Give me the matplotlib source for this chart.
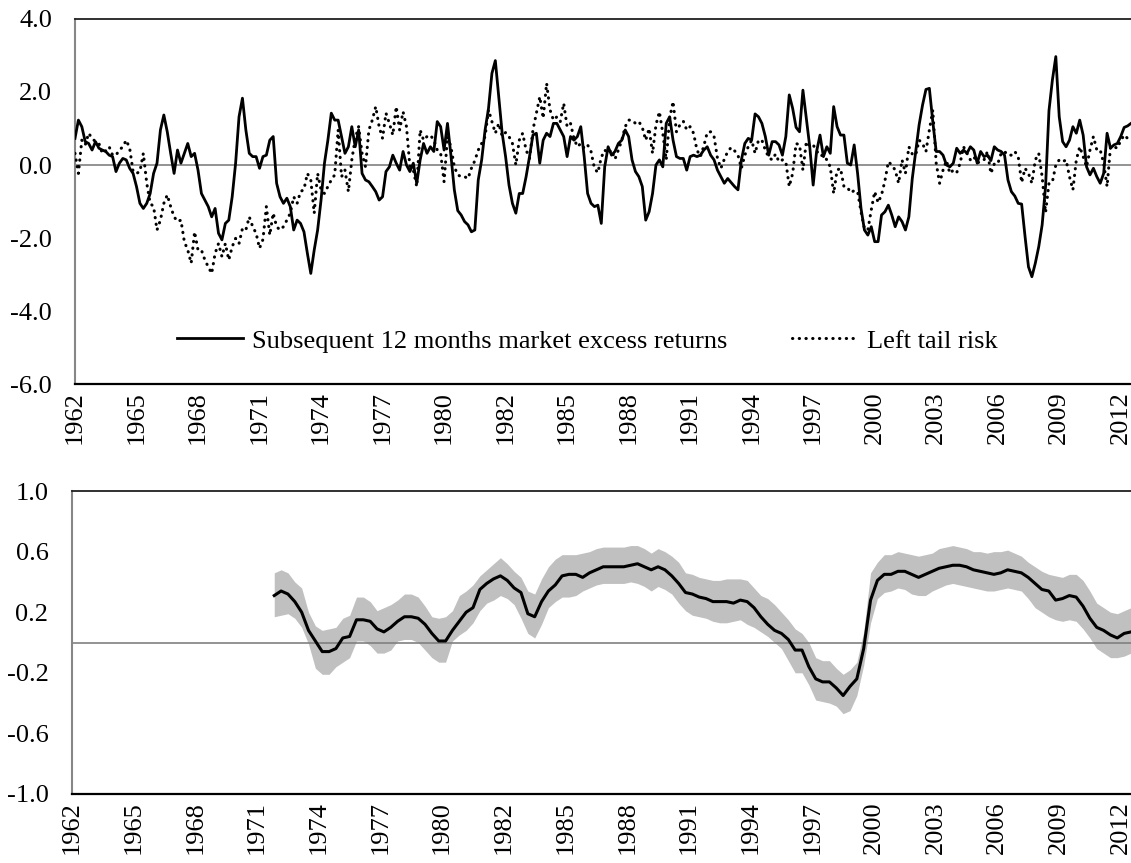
import matplotlib
matplotlib.use("Agg")
import matplotlib.pyplot as plt
import numpy as np

plt.rcParams["font.family"] = ["Liberation Serif", "DejaVu Serif"]
plt.rcParams["font.size"] = 19

# x axis: months since Jan 1962, labelled every 36 months
year_labels = ["1962", "1965", "1968", "1971", "1974", "1977", "1980", "1982", "1985",
               "1988", "1991", "1994", "1997", "2000", "2003", "2006", "2009", "2012"]

# top panel, one reading every 2 months
excess_returns = [
    0.73, 1.23, 1.05, 0.64, 0.59, 0.41, 0.64, 0.46, 0.41, 0.37,
    0.27, 0.23, -0.18, 0.05, 0.18, 0.14, -0.09, -0.23, -0.59, -1.05,
    -1.19, -1.05, -0.78, -0.23, 0.05, 0.96, 1.37, 0.91, 0.32, -0.23,
    0.41, 0.05, 0.32, 0.59, 0.23, 0.32, -0.14, -0.78, -0.96, -1.14,
    -1.42, -1.19, -1.87, -2.05, -1.60, -1.51, -0.87, 0.05, 1.32, 1.83,
    0.96, 0.32, 0.23,
    0.23, -0.09, 0.23, 0.27, 0.68, 0.78, -0.50, -0.87, -1.05, -0.91,
    -1.14, -1.78, -1.51, -1.60, -1.83, -2.42, -2.97, -2.33, -1.78, -0.96,
    0.05, 0.68, 1.42, 1.23, 1.23, 0.78, 0.32, 0.50, 1.05, 0.50,
    0.96, -0.23, -0.41, -0.46, -0.59, -0.73, -0.96, -0.87, -0.18, -0.05,
    0.27, 0.05, -0.14, 0.37, 0.00, -0.18, 0.05, -0.50, 0.14, 0.59,
    0.32, 0.50, 0.37,
    1.19, 1.05, 0.41, 1.14, 0.27, -0.68, -1.25, -1.37, -1.55, -1.64,
    -1.83, -1.78, -0.41, 0.14, 0.96, 1.55, 2.51, 2.86, 1.87, 0.87,
    0.23, -0.55, -1.05, -1.32, -0.78, -0.78, -0.32, 0.23, 0.82, 0.87,
    0.05, 0.68, 0.87, 0.78, 1.14, 1.14, 0.96, 0.78, 0.23, 0.78,
    0.68, 0.78, 1.05, 0.23, -0.78, -1.05, -1.14, -1.10, -1.60, -0.05,
    0.50, 0.27, 0.37,
    0.59, 0.68, 0.96, 0.78, 0.14, -0.18, -0.32, -0.59, -1.51, -1.28,
    -0.78, 0.00, 0.14, -0.05, 1.14, 1.32, 0.68, 0.23, 0.18, 0.18,
    -0.14, 0.23, 0.27, 0.23, 0.27, 0.41, 0.50, 0.27, 0.14, -0.14,
    -0.32, -0.50, -0.37, -0.48, -0.59, -0.68, 0.14, 0.59, 0.73, 0.68,
    1.40, 1.32, 1.14, 0.78, 0.27, 0.64, 0.64, 0.55, 0.27, 0.78,
    1.92, 1.55,
    1.03, 0.91, 2.05, 1.28, 0.50, -0.55, 0.37, 0.82, 0.23, 0.50,
    0.32, 1.60, 1.05, 0.82, 0.82, 0.05, 0.00, 0.55, -0.23, -1.19,
    -1.78, -1.92, -1.69, -2.10, -2.10, -1.37, -1.28, -1.10, -1.37, -1.69,
    -1.42, -1.55, -1.78, -1.42, -0.37, 0.37, 1.10, 1.64, 2.07, 2.10,
    1.19, 0.37, 0.37, 0.27, 0.00, -0.05, 0.05, 0.46, 0.32, 0.41,
    0.32, 0.50, 0.41,
    0.05, 0.37, 0.23, 0.27, 0.12, 0.50, 0.41, 0.37, 0.27, -0.41,
    -0.73, -0.85, -1.05, -1.07, -1.96, -2.79, -3.06, -2.69, -2.24, -1.64,
    -0.59, 1.49, 2.33, 2.97, 1.32, 0.64, 0.50, 0.68, 1.05, 0.87,
    1.23, 0.82, -0.05, -0.27, -0.09, -0.32, -0.50, -0.23, 0.87, 0.46,
    0.55, 0.59, 0.78, 1.03, 1.07, 1.14,
]
left_tail = [
    0.32, -0.23, 0.68, 0.55, 0.87, 0.73, 0.64, 0.59, 0.32, 0.39,
    0.50, 0.27, 0.27, 0.41, 0.50, 0.68, 0.46, -0.18, -0.23, -0.18,
    0.32, -0.50, -1.05, -1.14, -1.78, -1.51, -1.05, -0.82, -1.14, -1.42,
    -1.55, -1.51, -2.10, -2.33, -2.69, -1.83, -2.33, -2.33, -2.60, -2.79,
    -2.97, -2.42, -2.15, -2.51, -2.15, -2.60, -2.24, -2.01, -2.15, -1.74,
    -1.78, -1.42, -1.69,
    -1.87, -2.28, -2.04, -1.14, -1.92, -1.32, -1.69, -1.78, -1.69, -1.51,
    -1.32, -0.87, -1.05, -0.73, -0.67, -0.23, -0.41, -1.32, -0.23, -0.68,
    -0.78, -0.59, -0.41, -0.27, 0.96, -0.32, -0.14, -0.73, 0.14, 0.73,
    1.05, 0.32, -0.05, 0.96, 1.23, 1.60, 1.05, 0.73, 1.42, 1.14,
    0.82, 1.60, 0.96, 1.46, 1.05, -0.05, -0.14, -0.59, 0.96, 0.68,
    0.78, 0.82, 0.68,
    0.41, 0.32, -0.46, 0.78, 0.50, -0.05, -0.27, -0.32, -0.32, -0.37,
    -0.09, 0.12, 0.41, 0.59, 0.78, 1.51, 1.19, 0.87, 1.14, 0.79,
    0.89, 0.78, 0.59, 0.00, 0.68, 0.87, 0.41, 0.18, 0.96, 1.42,
    1.87, 1.28, 2.24, 1.51, 1.23, 1.32, 1.19, 1.69, 1.05, 1.14,
    0.73, 0.50, 0.59, 0.46, 0.55, 0.37, -0.09, -0.21, 0.21, 0.41,
    0.32, 0.41, 0.16,
    0.41, 0.68, 1.05, 1.23, 1.23, 1.14, 1.19, 1.03, 0.68, 1.00,
    0.32, 1.10, 1.46, 0.87, 0.14, 1.28, 1.74, 0.91, 1.10, 1.20,
    0.96, 1.05, 0.87, 0.41, 0.23, 0.52, 0.89, 0.91, 0.78, 0.18,
    -0.09, 0.16, 0.37, 0.48, 0.39, 0.27, -0.09, 0.27, 0.50, 0.68,
    0.32, 0.68, 0.68, 0.41, 0.21, 0.14, 0.30, 0.09, 0.14, 0.09,
    -0.59, -0.23,
    0.59, 0.55, -0.14, 0.64, 0.52, 0.55, 0.39, 0.25, 0.27, 0.14,
    -0.05, -0.78, -0.14, -0.09, -0.59, -0.61, -0.76, -0.70, -0.73, -1.28,
    -1.74, -1.78, -1.23, -0.73, -1.03, -0.82, -0.43, 0.09, 0.00, -0.14,
    -0.50, 0.14, -0.23, 0.50, 0.30, 0.27, 0.68, 0.59, 0.37, 0.96,
    1.50, 0.05, -0.50, -0.14, 0.12, -0.23, -0.14, -0.21, 0.05, 0.50,
    0.32, 0.14, 0.23,
    0.06, 0.09, 0.14, 0.37, -0.23, 0.03, 0.03, 0.32, 0.37, 0.27,
    0.27, 0.37, 0.23, -0.48, -0.09, -0.23, -0.50, 0.14, 0.32, -0.32,
    -1.30, -0.50, -0.46, 0.00, 0.14, 0.09, 0.14, -0.32, -0.68, 0.14,
    0.50, 0.23, -0.05, 0.41, 0.78, 0.41, 0.41, 0.05, -0.59, 0.50,
    0.50, 0.46, 0.67, 0.82, 0.73, 0.64,
]
top_yticks = [4, 2, 0, -2, -4, -6]
top_ylabels = ["4.0", "2.0", "0.0", "-2.0", "-4.0", "-6.0"]

# bottom panel, rolling correlation with band, one reading every 4 months from month 118
corr_mid = [
    0.31, 0.34, 0.32, 0.27, 0.20, 0.08, 0.01, -0.06, -0.06, -0.04,
    0.03, 0.04, 0.15, 0.15, 0.14, 0.09, 0.07, 0.10,
    0.14, 0.17, 0.17, 0.16, 0.12, 0.06, 0.01, 0.01, 0.08, 0.14,
    0.20, 0.23, 0.35, 0.39, 0.42, 0.44, 0.41, 0.36, 0.33, 0.19,
    0.17, 0.27, 0.34, 0.38, 0.44, 0.45, 0.45, 0.43, 0.46, 0.48,
    0.50, 0.50, 0.50, 0.50, 0.51, 0.52, 0.50, 0.48, 0.50, 0.48,
    0.44, 0.39, 0.33, 0.32, 0.30, 0.29, 0.27, 0.27, 0.27, 0.26,
    0.28, 0.27,
    0.23, 0.17, 0.12, 0.08, 0.06, 0.02, -0.05, -0.05, -0.16, -0.24,
    -0.26, -0.26, -0.30, -0.35, -0.29, -0.24, -0.04, 0.28, 0.41, 0.45,
    0.45, 0.47, 0.47, 0.45, 0.43, 0.45, 0.47, 0.49, 0.50, 0.51,
    0.51, 0.50, 0.48, 0.47, 0.46, 0.45, 0.46, 0.48, 0.47, 0.46,
    0.43, 0.39, 0.35, 0.34, 0.28, 0.29, 0.31, 0.30, 0.24, 0.16,
    0.10, 0.08, 0.05, 0.03, 0.06, 0.07,
]
corr_hi = [
    0.46, 0.48, 0.46, 0.40, 0.36, 0.20, 0.11, 0.08, 0.09, 0.10,
    0.16, 0.18, 0.30, 0.30, 0.27, 0.21, 0.23, 0.25,
    0.28, 0.32, 0.32, 0.30, 0.24, 0.17, 0.16, 0.17, 0.21, 0.31,
    0.34, 0.38, 0.44, 0.48, 0.52, 0.56, 0.52, 0.47, 0.43, 0.34,
    0.32, 0.42, 0.50, 0.55, 0.58, 0.58, 0.58, 0.59, 0.60, 0.62,
    0.63, 0.63, 0.63, 0.63, 0.64, 0.64, 0.62, 0.59, 0.62, 0.60,
    0.57, 0.53, 0.46, 0.45, 0.43, 0.42, 0.41, 0.41, 0.42, 0.42,
    0.42, 0.41,
    0.36, 0.31, 0.29, 0.25, 0.20, 0.15, 0.09, 0.06, 0.00, -0.10,
    -0.12, -0.12, -0.17, -0.21, -0.18, -0.13, 0.07, 0.46, 0.53, 0.58,
    0.58, 0.60, 0.59, 0.58, 0.57, 0.58, 0.59, 0.62, 0.63, 0.64,
    0.63, 0.62, 0.60, 0.60, 0.59, 0.60, 0.60, 0.61, 0.59, 0.57,
    0.53, 0.50, 0.47, 0.45, 0.44, 0.43, 0.45, 0.45, 0.41, 0.34,
    0.26, 0.23, 0.20, 0.19, 0.21, 0.23,
]
corr_lo = [
    0.17, 0.18, 0.19, 0.16, 0.10, -0.01, -0.17, -0.21, -0.21, -0.16,
    -0.13, -0.10, 0.01, 0.01, -0.02, -0.07, -0.07, -0.05,
    0.01, 0.02, 0.02, 0.00, -0.05, -0.10, -0.13, -0.13, 0.01, 0.05,
    0.08, 0.13, 0.21, 0.26, 0.28, 0.31, 0.29, 0.25, 0.16, 0.06,
    0.03, 0.12, 0.23, 0.27, 0.30, 0.30, 0.31, 0.34, 0.36, 0.38,
    0.39, 0.39, 0.39, 0.39, 0.40, 0.39, 0.37, 0.34, 0.37, 0.35,
    0.32, 0.26, 0.21, 0.18, 0.17, 0.16, 0.14, 0.13, 0.13, 0.14,
    0.15, 0.12,
    0.10, 0.07, 0.04, 0.00, -0.04, -0.12, -0.20, -0.20, -0.28, -0.38,
    -0.39, -0.40, -0.42, -0.47, -0.45, -0.35, -0.15, 0.13, 0.29, 0.33,
    0.34, 0.36, 0.35, 0.32, 0.31, 0.31, 0.34, 0.36, 0.38, 0.39,
    0.38, 0.37, 0.36, 0.35, 0.34, 0.34, 0.35, 0.36, 0.35, 0.34,
    0.29, 0.23, 0.20, 0.17, 0.15, 0.14, 0.15, 0.14, 0.09, 0.03,
    -0.04, -0.07, -0.10, -0.10, -0.09, -0.07,
]
corr_start, corr_step = 118, 4
bot_yticks = [1.0, 0.6, 0.2, -0.2, -0.6, -1.0]
bot_ylabels = ["1.0", "0.6", "0.2", "-0.2", "-0.6", "-1.0"]

x_top = np.arange(len(excess_returns)) * 2
x_corr = corr_start + np.arange(len(corr_mid)) * corr_step
x_ticks = np.arange(len(year_labels)) * 36


def style_axes(ax, yticks, ylabels, ylim, ypad):
    ax.set_xlim(0, 618)
    ax.set_ylim(*ylim)
    ax.set_yticks(yticks)
    ax.set_yticklabels(ylabels)
    ax.set_xticks(x_ticks)
    ax.set_xticklabels(year_labels, rotation=90, fontsize=19)
    ax.tick_params(axis="y", length=0, pad=ypad)
    ax.tick_params(axis="x", length=0, pad=5)
    ax.spines["right"].set_visible(False)
    ax.spines["left"].set_color("#868686")
    ax.spines["left"].set_linewidth(1.5)
    ax.spines["top"].set_color("#202020")
    ax.spines["top"].set_linewidth(1.3)
    ax.spines["bottom"].set_color("black")
    ax.spines["bottom"].set_linewidth(1.6)
    ax.axhline(0, color="#808080", lw=1.2, zorder=2)


fig = plt.figure(figsize=(11.31, 8.63), dpi=100)
ax1 = fig.add_axes([0.0663, 0.555, 0.9337, 0.423])
ax2 = fig.add_axes([0.0637, 0.080, 0.9363, 0.351])

style_axes(ax1, top_yticks, top_ylabels, (-6, 4), 16.5)
ax1.plot(x_top, excess_returns, "-", color="black", lw=2.0, zorder=4,
         label="Subsequent 12 months market excess returns")
ax1.plot(x_top, left_tail, linestyle=(0, (0.1, 2.1)), dash_capstyle="round",
         color="black", lw=2.2, zorder=3, label="Left tail risk")
ax1.legend(loc="center left", bbox_to_anchor=(0.0966, 0.118), ncol=2, frameon=False,
           handlelength=2.5, handletextpad=0.35, columnspacing=2.45,
           borderpad=0, borderaxespad=0, fontsize=19)

style_axes(ax2, bot_yticks, bot_ylabels, (-1, 1), 17)
ax2.fill_between(x_corr, corr_lo, corr_hi, color="#c0c0c0", lw=0, zorder=1)
ax2.plot(x_corr, corr_mid, "-", color="black", lw=2.2, zorder=4)

plt.savefig("out.png", dpi=100)
plt.close()
